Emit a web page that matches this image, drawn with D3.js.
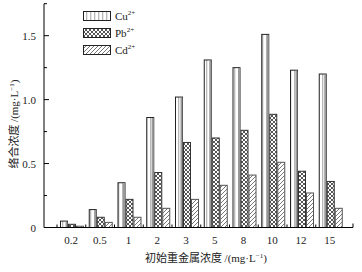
<!DOCTYPE html>
<html><head><meta charset="utf-8">
<script src="https://cdn.jsdelivr.net/npm/d3@7"></script>
<style>body{margin:0;background:#fff}svg{display:block}</style>
</head><body>
<script>
const categories = ["0.2","0.5","1","2","3","5","8","10","12","15"];
const seriesNames = ["Cu","Pb","Cd"];
const cuValues = [0.05,0.14,0.35,0.86,1.02,1.31,1.25,1.51,1.23,1.20];
const pbValues = [0.025,0.08,0.22,0.43,0.665,0.70,0.76,0.885,0.44,0.36];
const cdValues = [0.01,0.04,0.08,0.15,0.22,0.33,0.41,0.51,0.27,0.15];
const yTicks = [0,0.5,1.0,1.5];
const yTickLabels = ["0","0.5","1.0","1.5"];
const yMinorTicks = [0.25,0.75,1.25,1.75];

const W=362,H=272;
const svg=d3.select("body").append("svg").attr("width",W).attr("height",H);
const defs=svg.append("defs");
// Cu vertical stripes
const pCu=defs.append("pattern").attr("id","pCu").attr("patternUnits","userSpaceOnUse").attr("width",4).attr("height",4);
pCu.append("rect").attr("width",4).attr("height",4).attr("fill","#fff");
pCu.append("rect").attr("x",2).attr("width",1.3).attr("height",4).attr("fill","#b8b8b8");
// Pb crosshatch
const pPb=defs.append("pattern").attr("id","pPb").attr("patternUnits","userSpaceOnUse").attr("width",4).attr("height",4);
pPb.append("rect").attr("width",4).attr("height",4).attr("fill","#fff");
pPb.append("path").attr("d","M0,0L4,4M4,0L0,4").attr("stroke","#444").attr("stroke-width",0.9);
// Cd diagonal
const pCd=defs.append("pattern").attr("id","pCd").attr("patternUnits","userSpaceOnUse").attr("width",4).attr("height",4);
pCd.append("rect").attr("width",4).attr("height",4).attr("fill","#fff");
pCd.append("path").attr("d","M-1,1L1,-1M0,4L4,0M3,5L5,3").attr("stroke","#555").attr("stroke-width",0.8);

const fills={Cu:"url(#pCu)",Pb:"url(#pPb)",Cd:"url(#pCd)"};
const strokes={Cu:"#222",Pb:"#333",Cd:"#555"};
const vals={Cu:cuValues,Pb:pbValues,Cd:cdValues};

const x0=d3.scaleBand().domain(categories).range([57,344.5]).padding(0);
const x1=d3.scaleBand().domain(seriesNames).range([3,27]).padding(0);
const y=d3.scaleLinear().domain([0,1.75]).range([227.5,3.7]);

const serif="'Liberation Serif','Times New Roman',serif";
const cjk="'Noto Sans CJK SC','Liberation Serif',serif";

// bars
const g=svg.append("g");
categories.forEach((c,i)=>{
  seriesNames.forEach(s=>{
    const v=vals[s][i];
    const bx=x0(c)+x1(s), bw=x1.bandwidth();
    g.append("rect").attr("x",bx+0.5).attr("y",y(v)).attr("width",bw-1).attr("height",y(0)-y(v))
      .attr("fill",fills[s]).attr("stroke",strokes[s]).attr("stroke-width",1);
    if(s==="Cu"){
      g.append("rect").attr("x",bx+bw-2.5).attr("y",y(v)+0.5).attr("width",2).attr("height",Math.max(0,y(0)-y(v)-0.5)).attr("fill","#999");
    }
  });
});

// y axis
const ax=svg.append("g").attr("stroke","#000");
ax.append("line").attr("x1",44).attr("x2",44).attr("y1",y(1.75)).attr("y2",y(0)).attr("stroke-width",1);
yTicks.forEach(t=>ax.append("line").attr("x1",44).attr("x2",49).attr("y1",y(t)).attr("y2",y(t)));
yMinorTicks.forEach(t=>ax.append("line").attr("x1",44).attr("x2",47).attr("y1",y(t)).attr("y2",y(t)));
svg.append("g").selectAll("text").data(yTicks).join("text")
  .attr("x",36).attr("y",d=>y(d)+4).attr("text-anchor","end")
  .attr("font-family",serif).attr("font-size",11).attr("fill","#222")
  .text((d,i)=>yTickLabels[i]);

// x axis
ax.append("line").attr("x1",44).attr("x2",353).attr("y1",y(0)).attr("y2",y(0)).attr("stroke-width",1);
categories.forEach(c=>ax.append("line").attr("x1",x0(c)).attr("x2",x0(c)).attr("y1",y(0)).attr("y2",y(0)-3));
ax.append("line").attr("x1",353).attr("x2",353).attr("y1",y(0)).attr("y2",y(0)-4);
svg.append("g").selectAll("text").data(categories).join("text")
  .attr("x",d=>x0(d)+x1("Pb")+x1.bandwidth()/2-1).attr("y",244).attr("text-anchor","middle")
  .attr("font-family",serif).attr("font-size",11).attr("fill","#222").text(d=>d);

// axis titles
const xt=svg.append("text").attr("x",206).attr("y",262).attr("text-anchor","middle")
  .attr("font-size",11).attr("fill","#222");
xt.append("tspan").attr("font-family",cjk).text("初始重金属浓度 ");
xt.append("tspan").attr("font-family",serif).text("/(mg·L");
xt.append("tspan").attr("font-family",serif).attr("font-size",7).attr("dy",-4).text("−1");
xt.append("tspan").attr("font-family",serif).attr("dy",4).text(")");

const yt=svg.append("text").attr("transform","translate(18,124) rotate(-90)").attr("text-anchor","middle")
  .attr("font-size",11).attr("fill","#222");
yt.append("tspan").attr("font-family",cjk).text("络合浓度 ");
yt.append("tspan").attr("font-family",serif).text("/(mg·L");
yt.append("tspan").attr("font-family",serif).attr("font-size",7).attr("dy",-4).text("−1");
yt.append("tspan").attr("font-family",serif).attr("dy",4).text(")");

// legend
seriesNames.forEach((s,i)=>{
  const ly=11+i*17;
  svg.append("rect").attr("x",83.5).attr("y",ly+0.5).attr("width",27).attr("height",9)
    .attr("fill",fills[s]).attr("stroke","#222");
  const t=svg.append("text").attr("x",115).attr("y",ly+9).attr("font-family",serif).attr("font-size",11).attr("fill","#222");
  t.append("tspan").text(s);
  t.append("tspan").attr("font-size",7).attr("dy",-5).text("2+");
});
</script>
</body></html>
